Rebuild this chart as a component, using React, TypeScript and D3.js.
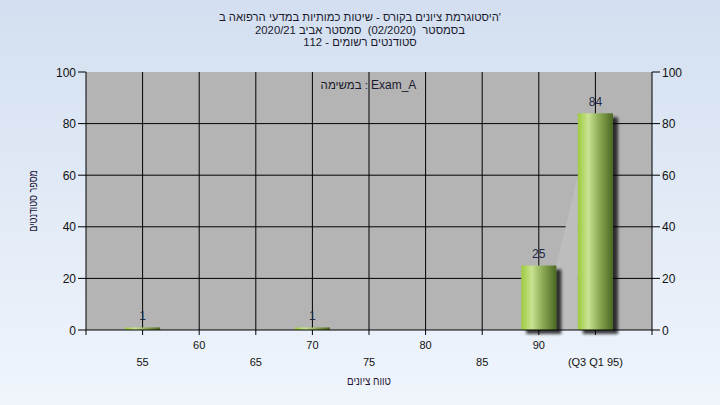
import React from "react";
import * as d3 from "d3";

const titleLines = [
  "היסטוגרמת ציונים בקורס - שיטות כמותיות במדעי הרפואה ב'",
  "בסמסטר  (02/2020)  סמסטר אביב 2020/21",
  "סטודנטים רשומים - 112",
];
const legendHeb = "במשימה :";
const legendName = "Exam_A";
const xTitle = "טווח ציונים";
const yTitle = "מספר סטודנטים";

const scores = [55, 60, 65, 70, 75, 80, 85, 90, 95];
const tickLabels = ["55", "60", "65", "70", "75", "80", "85", "90", "(Q3 Q1 95)"];
const counts = [1, 0, 0, 1, 0, 0, 0, 25, 84];
const yTicks = [0, 20, 40, 60, 80, 100];
const wedgeValue = 60;

const W = 720;
const H = 405;
const left = 86;
const right = 652;
const top = 72;
const bottom = 330;
const font = "'Liberation Sans', Arial, sans-serif";

export default function App() {
  const x = d3.scaleLinear().domain([50, 100]).range([left, right]);
  const y = d3.scaleLinear().domain([0, 100]).range([bottom, top]);
  const bw = (x(55) - x(50)) * 0.62;

  const i90 = scores.indexOf(90);
  const i95 = scores.indexOf(95);
  const wx0 = x(scores[i90]) + bw / 2;
  const wx1 = x(scores[i95]) - bw / 2;
  const wedge = [
    [wx0, y(counts[i90])],
    [wx1, y(wedgeValue)],
    [wx1, y(0)],
    [wx0, y(0)],
  ];

  return (
    <div style={{ position: "fixed", left: 0, top: 0, width: W, height: H }}>
      <svg width={W} height={H} style={{ display: "block" }} fontFamily={font}>
        <defs>
          <linearGradient id="bg" x1="0" y1="0" x2="0" y2="1">
            <stop offset="0%" stopColor="#d3dff0" />
            <stop offset="100%" stopColor="#f0f5fc" />
          </linearGradient>
          <linearGradient id="bar" x1="0" y1="0" x2="1" y2="0">
            <stop offset="0%" stopColor="#9ccb3e" />
            <stop offset="30%" stopColor="#c9e393" />
            <stop offset="60%" stopColor="#8eac55" />
            <stop offset="100%" stopColor="#4b6822" />
          </linearGradient>
          <filter id="shadow" x="-30%" y="-10%" width="160%" height="130%">
            <feGaussianBlur in="SourceAlpha" stdDeviation="1.8" />
            <feOffset dx="5" dy="4" result="b" />
            <feComponentTransfer>
              <feFuncA type="linear" slope="0.75" />
            </feComponentTransfer>
            <feMerge>
              <feMergeNode />
              <feMergeNode in="SourceGraphic" />
            </feMerge>
          </filter>
        </defs>
        <rect x={0} y={0} width={W} height={H} fill="url(#bg)" />

        {titleLines.map((t, i) => (
          <text
            key={i}
            x={W / 2}
            y={21 + i * 12.7}
            fontSize={11.3}
            textAnchor="middle"
            fill="#1a1a2e"
            style={{ whiteSpace: "pre" }}
          >
            {t}
          </text>
        ))}

        <rect x={left} y={top} width={right - left} height={bottom - top} fill="#b4b4b4" />

        {yTicks.slice(1, -1).map((v) => (
          <line key={"gy" + v} x1={left} x2={right} y1={y(v)} y2={y(v)} stroke="#000" strokeWidth={1} />
        ))}
        {scores.map((s) => (
          <line key={"gx" + s} x1={x(s)} x2={x(s)} y1={top} y2={bottom + 5} stroke="#000" strokeWidth={1} />
        ))}

        <polygon points={wedge.map((p) => p.join(",")).join(" ")} fill="#bdbdbd" />

        {scores.map((s, i) =>
          counts[i] > 0 ? (
            <rect
              key={"b" + s}
              x={x(s) - bw / 2}
              y={y(counts[i])}
              width={bw}
              height={y(0) - y(counts[i])}
              fill="url(#bar)"
              filter="url(#shadow)"
            />
          ) : null
        )}

        {scores.map((s, i) =>
          counts[i] > 0 ? (
            <text key={"v" + s} x={x(s)} y={y(counts[i]) - 7.5} fontSize={12} textAnchor="middle" fill="#1f2a48">
              {counts[i]}
            </text>
          ) : null
        )}

        <line x1={left} x2={left} y1={top} y2={bottom + 5} stroke="#000" />
        <line x1={right} x2={right} y1={top} y2={bottom + 5} stroke="#000" />
        <line x1={left} x2={right} y1={bottom} y2={bottom} stroke="#000" />

        {yTicks.map((v) => (
          <g key={"yt" + v}>
            <line x1={left - 8} x2={left} y1={y(v)} y2={y(v)} stroke="#000" />
            <text x={left - 10} y={y(v) + 4.5} fontSize={12} textAnchor="end" fill="#111">
              {v}
            </text>
            <line x1={right} x2={right + 8} y1={y(v)} y2={y(v)} stroke="#000" />
            <text x={right + 10} y={y(v) + 4.5} fontSize={12} textAnchor="start" fill="#111">
              {v}
            </text>
          </g>
        ))}

        {scores.map((s, i) => (
          <text key={"xl" + s} x={x(s)} y={i % 2 === 0 ? 366 : 349} fontSize={11} textAnchor="middle" fill="#111">
            {tickLabels[i]}
          </text>
        ))}

        <text x={368} y={89} fontSize={11.5} textAnchor="end" fill="#1a1a2e">
          {legendHeb}
        </text>
        <text x={371} y={89} fontSize={12} textAnchor="start" fill="#1a1a2e">
          {legendName}
        </text>

        <text
          transform={`translate(${(left + right) / 2}, 385) scale(0.82, 1)`}
          fontSize={12}
          textAnchor="middle"
          fill="#1e1438"
        >
          {xTitle}
        </text>
        <text
          transform={`translate(37, ${(top + bottom) / 2}) rotate(-90) scale(0.75, 1)`}
          fontSize={12}
          textAnchor="middle"
          fill="#1e1438"
        >
          {yTitle}
        </text>
      </svg>
    </div>
  );
}
